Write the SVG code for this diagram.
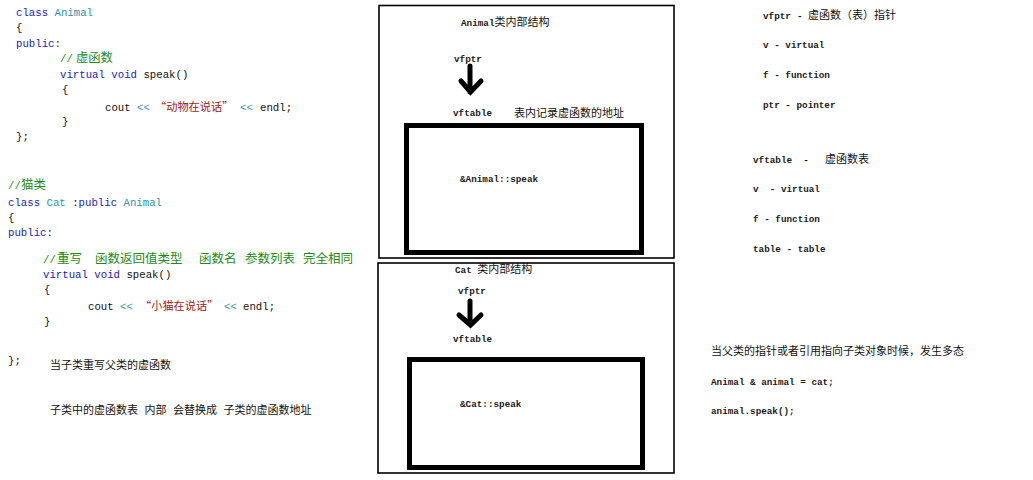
<svg xmlns="http://www.w3.org/2000/svg" width="1033" height="480" viewBox="0 0 1033 480">
<defs>
<style>
text{white-space:pre;fill:#111}
.code{font-family:"Liberation Mono","Noto Sans CJK SC",monospace;font-size:10.7px}
.cj{font-family:"Noto Sans CJK SC","Noto Sans",sans-serif}
.kw{fill:#1a1ab8}
.ty{fill:#2b91af}
.op{fill:#3d8fb5}
.cm{fill:#1a8a1a}
.str{fill:#a31515}
.mono{font-family:"Liberation Mono","Noto Sans CJK SC",monospace;font-size:9.3px;font-weight:bold;fill:#1a1a1a}
.note{font-family:"Noto Sans CJK SC","Noto Sans",sans-serif;font-size:11px;font-weight:normal}
.frame{fill:none;stroke:#000;stroke-width:1.6}
.table{fill:none;stroke:#000;stroke-width:5}
.arrow{fill:none;stroke:#000;stroke-width:5;stroke-linecap:round;stroke-linejoin:miter}
</style>
</defs>
<rect width="1033" height="480" fill="#fff"/>

<g id="animal-code">
<text class="code" x="16" y="16"><tspan class="kw">class</tspan> <tspan class="ty">Animal</tspan></text>
<text class="code" x="16" y="31">{</text>
<text class="code kw" x="16" y="47">public:</text>
<text class="code cm" x="60" y="62">//<tspan class="cj" x="76" font-size="12.3">虚函数</tspan></text>
<text class="code" x="60" y="78"><tspan class="kw">virtual</tspan> <tspan class="kw">void</tspan> speak()</text>
<text class="code" x="62" y="93">{</text>
<text class="code" x="105" y="111">cout <tspan class="op" x="137">&lt;&lt;</tspan><tspan class="str cj" x="155" font-size="11.2">“动物在说话”</tspan><tspan class="op" x="240">&lt;&lt;</tspan><tspan x="260">endl;</tspan></text>
<text class="code" x="62" y="125">}</text>
<text class="code" x="16" y="140">};</text>
</g>

<g id="cat-code">
<text class="code cm" x="8" y="189">//<tspan class="cj" x="21" font-size="12.5">猫类</tspan></text>
<text class="code" x="8" y="206"><tspan class="kw">class</tspan> <tspan class="ty">Cat</tspan> :<tspan class="kw">public</tspan> <tspan class="ty">Animal</tspan></text>
<text class="code" x="8" y="221">{</text>
<text class="code kw" x="8" y="236">public:</text>
<text class="code cm" x="43" y="263">//<tspan class="cj" font-size="12.5" x="57">重写</tspan><tspan class="cj" font-size="12.5" x="95">函数返回值类型</tspan><tspan class="cj" font-size="12.5" x="199">函数名</tspan><tspan class="cj" font-size="12.5" x="245">参数列表</tspan><tspan class="cj" font-size="12.5" x="303">完全相同</tspan></text>
<text class="code" x="43" y="278"><tspan class="kw">virtual</tspan> <tspan class="kw">void</tspan> speak()</text>
<text class="code" x="44" y="293">{</text>
<text class="code" x="88" y="310">cout <tspan class="op" x="120">&lt;&lt;</tspan><tspan class="str cj" x="140" font-size="11.2">“小猫在说话”</tspan><tspan class="op" x="224">&lt;&lt;</tspan><tspan x="243">endl;</tspan></text>
<text class="code" x="44" y="325">}</text>
<text class="code" x="8" y="364">};</text>
</g>

<g id="notes-left">
<text class="note" x="50" y="369">当子类重写父类的虚函数</text>
<text class="note" x="50" y="414" word-spacing="4">子类中的虚函数表 内部 会替换成 子类的虚函数地址</text>
</g>

<g id="animal-struct">
<rect class="frame" x="379" y="5.5" width="295" height="252.5"/>
<text x="461" y="26"><tspan class="mono">Animal</tspan><tspan class="note">类内部结构</tspan></text>
<text class="mono" x="454" y="62">vfptr</text>
<text class="mono" x="453" y="116">vftable</text>
<text class="note" x="514" y="117">表内记录虚函数的地址</text>
<rect class="table" x="406.5" y="125.5" width="235" height="127"/>
<text class="mono" x="460" y="182">&amp;Animal::speak</text>
</g>

<g id="cat-struct">
<rect class="frame" x="378" y="263" width="296" height="210"/>
<text x="455" y="273"><tspan class="mono">Cat </tspan><tspan class="note">类内部结构</tspan></text>
<text class="mono" x="458" y="294">vfptr</text>
<text class="mono" x="453" y="342">vftable</text>
<rect class="table" x="409.5" y="359.5" width="233" height="108"/>
<text class="mono" x="460" y="407">&amp;Cat::speak</text>
</g>

<g id="connectors">
<path class="arrow" d="M470,66 V92 M461,81 L470.5,92 L481,81"/>
<path class="arrow" d="M470,301 V324 M459,315 L470.5,325 L481,315"/>
</g>

<g id="glossary">
<text x="763" y="19"><tspan class="mono">vfptr</tspan><tspan class="mono" x="797">-</tspan><tspan class="note" x="808" font-size="12.3">虚函数（表）指针</tspan></text>
<text class="mono" x="763" y="48">v - virtual</text>
<text class="mono" x="763" y="78">f - function</text>
<text class="mono" x="763" y="108">ptr - pointer</text>
<text x="753" y="163"><tspan class="mono">vftable  - </tspan><tspan class="note" x="825">虚函数表</tspan></text>
<text class="mono" x="753" y="192">v  - virtual</text>
<text class="mono" x="753" y="222">f - function</text>
<text class="mono" x="753" y="252">table - table</text>
</g>

<g id="polymorphism">
<text class="note" x="711" y="355">当父类的指针或者引用指向子类对象时候，发生多态</text>
<text class="mono" x="711" y="385">Animal &amp; animal = cat;</text>
<text class="mono" x="711" y="414">animal.speak();</text>
</g>
</svg>
